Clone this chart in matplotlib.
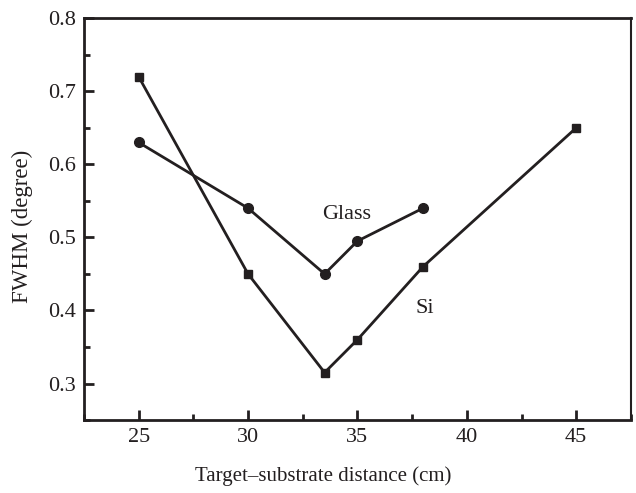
import matplotlib
matplotlib.use("Agg")
import matplotlib.pyplot as plt
from matplotlib.ticker import MultipleLocator

plt.rcParams['font.family'] = ['Liberation Serif', 'DejaVu Serif']

si_x = [25, 30, 33.5, 35, 38, 45]
si_y = [0.72, 0.45, 0.315, 0.36, 0.46, 0.65]
glass_x = [25, 30, 33.5, 35, 38]
glass_y = [0.63, 0.54, 0.45, 0.495, 0.54]

fig = plt.figure(figsize=(6.36, 4.93), dpi=100)
ax = fig.add_axes([0.132, 0.148, 0.860, 0.815])

c = '#231f20'
ax.plot(si_x, si_y, '-s', color=c, lw=2, ms=6)
ax.plot(glass_x, glass_y, '-o', color=c, lw=2, ms=7)

ax.text(34.5, 0.532, 'Glass', fontsize=16, ha='center', va='center', color=c)
ax.text(38.1, 0.403, 'Si', fontsize=16, ha='center', va='center', color=c)

ax.set_xlim(22.5, 47.5)
ax.set_ylim(0.25, 0.8)
ax.xaxis.set_major_locator(MultipleLocator(5))
ax.xaxis.set_minor_locator(MultipleLocator(2.5))
ax.yaxis.set_major_locator(MultipleLocator(0.1))
ax.yaxis.set_minor_locator(MultipleLocator(0.05))
ax.tick_params(which='both', direction='in', top=False, right=False,
               labelsize=16, width=2, color=c, labelcolor=c, pad=6)
ax.tick_params(which='major', length=7)
ax.tick_params(which='minor', length=4)
for s in ax.spines.values():
    s.set_linewidth(2)
    s.set_color(c)
ax.spines['right'].set_linewidth(1.5)

ax.set_xlabel('Target\u2013substrate distance (cm)', fontsize=15, color=c)
ax.set_ylabel('FWHM (degree)', fontsize=16.5, color=c)
ax.xaxis.set_label_coords(0.437, -0.115)
ax.yaxis.set_label_coords(-0.093, 0.483)

fig.savefig('out.png', dpi=100)
